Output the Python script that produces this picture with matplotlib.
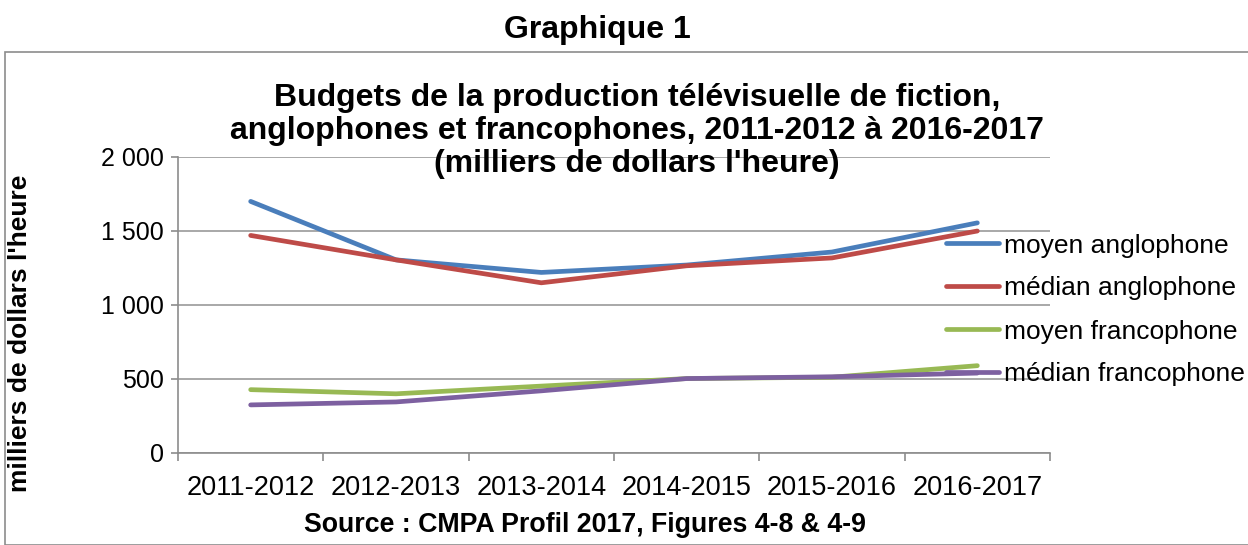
import matplotlib
matplotlib.use("Agg")
import matplotlib.pyplot as plt
from matplotlib.patches import Rectangle

plt.rcParams["font.family"] = ["Liberation Sans", "DejaVu Sans"]

seasons = ["2011-2012", "2012-2013", "2013-2014", "2014-2015", "2015-2016", "2016-2017"]
moyen_anglo = [1700, 1305, 1220, 1270, 1358, 1555]
median_anglo = [1470, 1305, 1150, 1265, 1318, 1500]
moyen_franco = [428, 400, 452, 503, 512, 590]
median_franco = [325, 345, 420, 503, 515, 540]

series = [
    ("moyen anglophone", moyen_anglo, "#4A7EBB"),
    ("médian anglophone", median_anglo, "#BE4B48"),
    ("moyen francophone", moyen_franco, "#98B954"),
    ("médian francophone", median_franco, "#7D60A0"),
]

W, H = 1248, 545
fig = plt.figure(figsize=(W / 100, H / 100), dpi=100)

# outer frame of the chart area
fig.patches.append(Rectangle((5 / W, 0), 1.2, 1 - 52 / H, transform=fig.transFigure,
                             fill=False, edgecolor="#8c8c8c", linewidth=1.2))

ax = fig.add_axes([178 / W, 1 - 453 / H, (1050 - 178) / W, (453 - 157) / H])

x = list(range(len(seasons)))
for label, vals, color in series:
    ax.plot(x, vals, color=color, linewidth=3.4, label=label, solid_capstyle="round")

ax.set_xlim(-0.5, len(seasons) - 0.5)
ax.set_ylim(0, 2000)
ax.set_yticks([0, 500, 1000, 1500, 2000])
ax.set_yticklabels(["0", "500", "1 000", "1 500", "2 000"])
ax.set_xticks(x)
ax.set_xticklabels(seasons)
ax.set_xticks([i - 0.5 for i in range(len(seasons) + 1)], minor=True)
ax.tick_params(axis="x", which="major", length=0, pad=16, labelsize=19.5)
ax.tick_params(axis="x", which="minor", length=6, color="#8c8c8c", width=1.2)
ax.tick_params(axis="y", length=5, color="#8c8c8c", width=1.2, labelsize=18, pad=5)

ax.grid(axis="y", color="#9a9a9a", linewidth=1.2)
ax.set_axisbelow(True)
for side in ["top", "right"]:
    ax.spines[side].set_visible(False)
for side in ["left", "bottom"]:
    ax.spines[side].set_color("#8c8c8c")
    ax.spines[side].set_linewidth(1.2)

ax.set_ylabel("milliers de dollars l'heure", fontsize=19, fontweight="bold")
ax.yaxis.set_label_coords((32 - 178) / (1050 - 178), (453 - 333) / (453 - 157))

leg = ax.legend(loc="center left", frameon=False,
                fontsize=19, handlelength=2.0, handletextpad=0.2, labelspacing=0.72,
                borderpad=0, borderaxespad=0)
leg.set_bbox_to_anchor((946 / W, 1 - 310 / H), transform=fig.transFigure)

fig.text(597 / W, 1 - 30 / H, "Graphique 1", ha="center", va="center",
         fontsize=23, fontweight="bold")
fig.text(637 / W, 1 - 131 / H,
         "Budgets de la production télévisuelle de fiction,\n"
         "anglophones et francophones, 2011-2012 à 2016-2017\n"
         "(milliers de dollars l'heure)",
         ha="center", va="center", fontsize=23, fontweight="bold", linespacing=1.15)
fig.text(585 / W, 1 - 525 / H, "Source : CMPA Profil 2017, Figures 4-8 & 4-9",
         ha="center", va="center", fontsize=19.3, fontweight="bold")

fig.savefig("out.png", dpi=100)
